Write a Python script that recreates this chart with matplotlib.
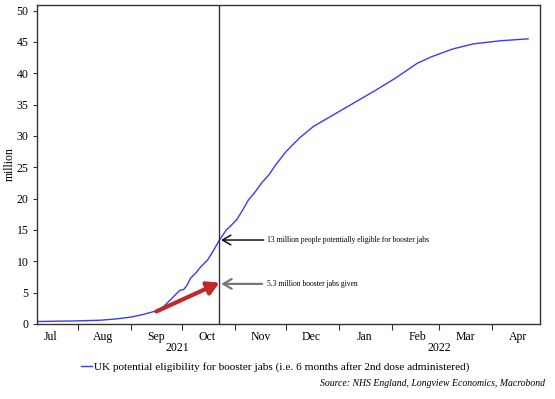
import matplotlib
matplotlib.use("Agg")
import matplotlib.pyplot as plt
import matplotlib.dates as mdates
from matplotlib.lines import Line2D
import pandas as pd

# data
dates = ["2021-07-09", "2021-08-01", "2021-08-14", "2021-08-23", "2021-09-01", "2021-09-08",
         "2021-09-16", "2021-09-20", "2021-09-24", "2021-09-28", "2021-09-30", "2021-10-02",
         "2021-10-04", "2021-10-06", "2021-10-09", "2021-10-12", "2021-10-16", "2021-10-19",
         "2021-10-23", "2021-10-27", "2021-10-29", "2021-11-02", "2021-11-05", "2021-11-09",
         "2021-11-13", "2021-11-17", "2021-11-21", "2021-11-25", "2021-12-01", "2021-12-09",
         "2021-12-17", "2021-12-29", "2022-01-10", "2022-01-22", "2022-02-03", "2022-02-16",
         "2022-02-24", "2022-03-09", "2022-03-21", "2022-04-06", "2022-04-22"]
eligible = [0.4, 0.5, 0.6, 0.8, 1.1, 1.5, 2.1, 2.7, 3.8, 4.9, 5.4, 5.5, 6.2, 7.3, 8.1, 9.1,
            10.2, 11.5, 13.4, 15.0, 15.5, 16.6, 17.9, 19.8, 21.1, 22.6, 23.8, 25.4, 27.5, 29.7,
            31.5, 33.4, 35.3, 37.2, 39.2, 41.6, 42.6, 43.9, 44.7, 45.2, 45.5]

marker_date = "2021-10-23"
booster_start = ("2021-09-16", 2.0)
booster_end = ("2021-10-23", 6.6)
eligible_at_marker = 13.4
booster_label_level = 6.4

legend_label = "UK potential eligibility for booster jabs (i.e. 6 months after 2nd dose administered)"
note_eligible = "13 million people potentially eligible for booster jabs"
note_booster = "5.3 million booster jabs given"
source = "Source: NHS England, Longview Economics, Macrobond"

plt.rcParams['font.family'] = ['Liberation Serif', 'DejaVu Serif']

x = pd.to_datetime(dates)
fig = plt.figure(figsize=(5.55, 3.99), dpi=100)
ax = fig.add_axes([37 / 555, 1 - 324 / 399, (540 - 37) / 555, (324 - 5) / 399])

ax.plot(x, eligible, color="#3a3aff", linewidth=1.0)
ax.axvline(pd.Timestamp(marker_date), color="#333333", linewidth=1.0)

# red arrow for booster jabs given
ax.annotate("", xy=(pd.Timestamp(booster_end[0]), booster_end[1]),
            xytext=(pd.Timestamp(booster_start[0]), booster_start[1]),
            arrowprops=dict(arrowstyle="-|>,head_length=0.7,head_width=0.4", color="#c0282a",
                            lw=3, mutation_scale=10, shrinkA=0, shrinkB=0))

# annotation arrows
ax.annotate("", xy=(pd.Timestamp("2021-10-24"), eligible_at_marker),
            xytext=(pd.Timestamp("2021-11-18"), eligible_at_marker),
            arrowprops=dict(arrowstyle="->,head_length=0.6,head_width=0.35", color="black",
                            lw=1.0, mutation_scale=10, shrinkA=0, shrinkB=0))
ax.annotate("", xy=(pd.Timestamp("2021-10-24"), booster_label_level),
            xytext=(pd.Timestamp("2021-11-17"), booster_label_level),
            arrowprops=dict(arrowstyle="->,head_length=0.6,head_width=0.35", color="#777777",
                            lw=1.6, mutation_scale=10, shrinkA=0, shrinkB=0))
ax.text(pd.Timestamp("2021-11-20"), eligible_at_marker, note_eligible, fontsize=5.5, va="center")
ax.text(pd.Timestamp("2021-11-20"), booster_label_level, note_booster, fontsize=5.5, va="center")

ax.set_xlim(pd.Timestamp("2021-07-08"), pd.Timestamp("2022-04-29"))
ax.set_ylim(0, 50.9)
ax.set_yticks(range(0, 51, 5))
ax.set_ylabel("million", fontsize=8.5)
ax.yaxis.set_label_coords(-0.043, 0.5)

ax.xaxis.set_major_locator(mdates.MonthLocator())
ax.xaxis.set_major_formatter(plt.NullFormatter())
ax.xaxis.set_minor_locator(mdates.MonthLocator(bymonthday=16))
ax.xaxis.set_minor_formatter(mdates.DateFormatter("%b"))
ax.tick_params(axis="x", which="major", length=4, direction="out", color="#333333")
ax.tick_params(axis="x", which="minor", length=0, labelsize=8.5, pad=5)
ax.tick_params(axis="y", length=3, direction="out", color="#333333", labelsize=8.5, pad=3)
for s in ax.spines.values():
    s.set_color("#333333")
    s.set_linewidth(1.0)

# year labels centred on the span of each year
ax.text(0.2798, -0.057, "2021", transform=ax.transAxes, ha="center", va="top", fontsize=8.5)
ax.text(0.799, -0.057, "2022", transform=ax.transAxes, ha="center", va="top", fontsize=8.5)

handle = Line2D([], [], color="#3a3aff", linewidth=1.0)
fig.legend([handle], [legend_label], loc="center left", bbox_to_anchor=(81 / 555, 1 - 367 / 399),
           frameon=False, fontsize=8.1, handlelength=1.0, handletextpad=0.15,
           borderpad=0, borderaxespad=0)

fig.text(545 / 555, 1 - 384 / 399, source, ha="right", va="center", fontsize=7.0, style="italic")

fig.savefig("out.png", dpi=100)
